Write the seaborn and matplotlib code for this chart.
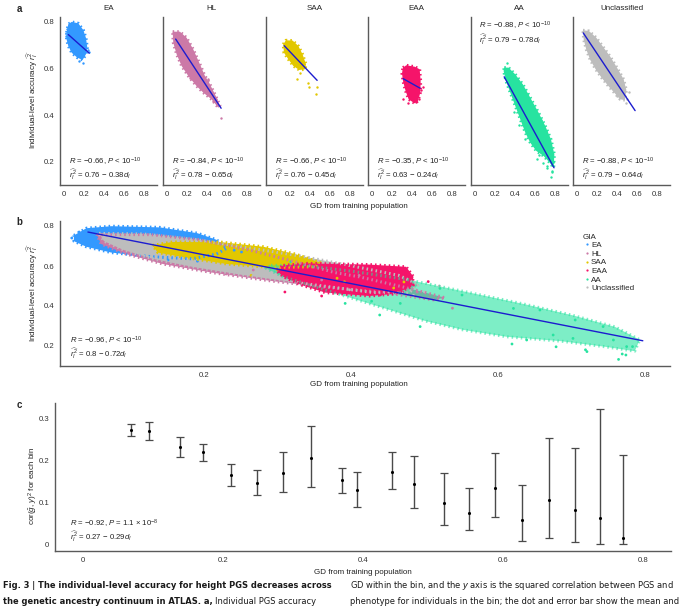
import matplotlib
matplotlib.use('Agg')
import matplotlib.pyplot as plt
from matplotlib import font_manager
import pandas as pd
import seaborn as sns

groups = ['EA', 'HL', 'SAA', 'EAA', 'AA', 'Unclassified']
palette = {'EA': '#3399FF', 'HL': '#CC79A7', 'SAA': '#E2C700',
           'EAA': '#F5146A', 'AA': '#27E3A0', 'Unclassified': '#BDBDBD'}
line_col = '#1C1CCF'

# dense core of each cloud, traced as an outline (GD, accuracy)
ea_edge_x = [0.023, 0.040, 0.074, 0.140, 0.191, 0.217, 0.231, 0.217, 0.184, 0.130, 0.074, 0.040, 0.023]
ea_edge_y = [0.753, 0.789, 0.799, 0.793, 0.764, 0.731, 0.689, 0.660, 0.636, 0.646, 0.667, 0.696, 0.724]
hl_edge_x = [0.054, 0.127, 0.194, 0.261, 0.328, 0.378, 0.411, 0.478, 0.528, 0.512, 0.445, 0.361, 0.294, 0.211, 0.144, 0.094, 0.060]
hl_edge_y = [0.757, 0.757, 0.731, 0.681, 0.617, 0.567, 0.546, 0.489, 0.441, 0.431, 0.467, 0.496, 0.524, 0.567, 0.610, 0.660, 0.710]
saa_edge_x = [0.130, 0.157, 0.224, 0.281, 0.324, 0.358, 0.348, 0.291, 0.231, 0.181, 0.137]
saa_edge_y = [0.703, 0.720, 0.719, 0.696, 0.660, 0.617, 0.596, 0.593, 0.610, 0.639, 0.667]
eaa_edge_x = [0.308, 0.341, 0.425, 0.475, 0.485, 0.482, 0.458, 0.425, 0.365, 0.334, 0.308, 0.298]
eaa_edge_y = [0.603, 0.613, 0.607, 0.596, 0.546, 0.496, 0.460, 0.450, 0.467, 0.503, 0.546, 0.579]
aa_edge_x = [0.291, 0.334, 0.401, 0.478, 0.552, 0.635, 0.702, 0.759, 0.793, 0.786, 0.746, 0.686, 0.612,
             0.552, 0.502, 0.452, 0.401, 0.351, 0.308, 0.284]
aa_edge_y = [0.603, 0.603, 0.574, 0.531, 0.474, 0.410, 0.353, 0.296, 0.231, 0.174, 0.196, 0.224, 0.246,
             0.281, 0.324, 0.381, 0.439, 0.496, 0.546, 0.589]
unc_edge_x = [0.057, 0.117, 0.191, 0.264, 0.331, 0.398, 0.465, 0.492, 0.478, 0.431, 0.385, 0.318, 0.251,
              0.184, 0.130, 0.090, 0.064]
unc_edge_y = [0.763, 0.760, 0.731, 0.689, 0.650, 0.603, 0.553, 0.507, 0.464, 0.467, 0.489, 0.521, 0.556,
              0.596, 0.636, 0.681, 0.724]

# loose individuals outside the dense cores
ea_pt_x = [0.191, 0.251, 0.241, 0.151, 0.020, 0.030, 0.041]
ea_pt_y = [0.624, 0.670, 0.679, 0.630, 0.740, 0.770, 0.755]
hl_pt_x = [0.538, 0.462, 0.411, 0.490, 0.360, 0.267, 0.230]
hl_pt_y = [0.389, 0.460, 0.553, 0.470, 0.530, 0.580, 0.560]
saa_pt_x = [0.264, 0.381, 0.391, 0.472, 0.458, 0.300]
saa_pt_y = [0.553, 0.539, 0.521, 0.520, 0.490, 0.580]
eaa_pt_x = [0.310, 0.470, 0.360, 0.440, 0.505, 0.485]
eaa_pt_y = [0.470, 0.470, 0.450, 0.455, 0.522, 0.505]
aa_pt_x = [0.318, 0.679, 0.769, 0.719, 0.619, 0.428, 0.764, 0.774, 0.775, 0.743, 0.757, 0.783, 0.721,
           0.702, 0.675, 0.639, 0.705, 0.657, 0.621, 0.521, 0.551, 0.467, 0.439, 0.494, 0.392]
aa_pt_y = [0.621, 0.196, 0.160, 0.181, 0.210, 0.424, 0.133, 0.155, 0.197, 0.297, 0.230, 0.197, 0.172,
           0.238, 0.255, 0.230, 0.330, 0.380, 0.388, 0.488, 0.455, 0.413, 0.355, 0.297, 0.413]
unc_pt_x = [0.485, 0.398, 0.520, 0.500]
unc_pt_y = [0.453, 0.481, 0.500, 0.470]

# per-GIA fits printed in panel a
fit_r = [-0.66, -0.84, -0.66, -0.35, -0.88, -0.88]
fit_a = [0.76, 0.78, 0.76, 0.63, 0.79, 0.79]
fit_b = [0.38, 0.65, 0.45, 0.24, 0.78, 0.64]
fit_x0 = [0.04, 0.084, 0.14, 0.31, 0.29, 0.06]
fit_x1 = [0.25, 0.54, 0.47, 0.48, 0.79, 0.58]

# pooled fit, panel b
all_r, all_a, all_b = -0.96, 0.8, 0.72
all_x0, all_x1 = 0.042, 0.797

# panel c: binned squared correlation
bin_gd = [0.068, 0.094, 0.139, 0.171, 0.212, 0.248, 0.286, 0.325, 0.370, 0.391, 0.442, 0.473, 0.516,
          0.551, 0.588, 0.627, 0.665, 0.703, 0.739, 0.771]
bin_mean = [0.273, 0.271, 0.233, 0.220, 0.166, 0.147, 0.171, 0.207, 0.153, 0.130, 0.174, 0.144, 0.100,
            0.076, 0.134, 0.057, 0.107, 0.083, 0.062, 0.014]
bin_lo = [0.259, 0.250, 0.210, 0.199, 0.139, 0.118, 0.126, 0.138, 0.122, 0.090, 0.132, 0.087, 0.045,
          0.034, 0.065, 0.008, 0.016, 0.005, 0.000, 0.000]
bin_hi = [0.288, 0.292, 0.256, 0.240, 0.193, 0.178, 0.220, 0.283, 0.183, 0.174, 0.220, 0.212, 0.170,
          0.134, 0.218, 0.142, 0.254, 0.230, 0.324, 0.214]

edges = {'EA': (ea_edge_x, ea_edge_y), 'HL': (hl_edge_x, hl_edge_y), 'SAA': (saa_edge_x, saa_edge_y),
         'EAA': (eaa_edge_x, eaa_edge_y), 'AA': (aa_edge_x, aa_edge_y), 'Unclassified': (unc_edge_x, unc_edge_y)}
pts = {'EA': (ea_pt_x, ea_pt_y), 'HL': (hl_pt_x, hl_pt_y), 'SAA': (saa_pt_x, saa_pt_y),
       'EAA': (eaa_pt_x, eaa_pt_y), 'AA': (aa_pt_x, aa_pt_y), 'Unclassified': (unc_pt_x, unc_pt_y)}

rows = []
for g in groups:
    for x, y in zip(*pts[g]):
        rows.append({'gd': x, 'acc': y, 'gia': g})
points = pd.DataFrame(rows)

sns.set_style('white')
plt.rcParams['font.family'] = ['Liberation Sans', 'DejaVu Sans']
plt.rcParams['mathtext.fontset'] = 'custom'
plt.rcParams['mathtext.rm'] = 'Liberation Sans'
plt.rcParams['mathtext.it'] = 'Liberation Sans:italic'
plt.rcParams['mathtext.bf'] = 'Liberation Sans:bold'

# a narrow face for the caption, if one is installed
cap_kw = {'family': 'Liberation Sans'}
narrow = [f for f in font_manager.fontManager.ttflist
          if 'Narrow' in f.name or 'Condensed' in f.name or f.stretch in ('condensed', 'semi-condensed')]
narrow.sort(key=lambda f: 0 if 'Liberation' in f.name else 1)
if narrow:
    cap_kw = {'family': narrow[0].name, 'fontstretch': narrow[0].stretch}

W, H = 680, 609
fig = plt.figure(figsize=(W / 100, H / 100), dpi=100)


def rect(l, t, r, b):
    return [l / W, 1 - b / H, (r - l) / W, (b - t) / H]


def style(ax):
    sns.despine(ax=ax)
    for s in ('left', 'bottom'):
        ax.spines[s].set_color('#5a5a5a')
        ax.spines[s].set_linewidth(1.0)
    ax.tick_params(labelsize=5.6, colors='#5a5a5a', labelcolor='#333333', length=2.5, width=0.8, pad=1.5)
    ax.set_xlabel('')
    ax.set_ylabel('')


def cloud(ax, g, alpha=1.0):
    ex, ey = edges[g]
    ax.fill(ex, ey, color=palette[g], lw=0, alpha=alpha)
    # speckled rim so the edge reads as loose points
    ax.plot(ex + ex[:1], ey + ey[:1], color=palette[g], lw=2.2, ls=(0, (0.5, 1.0)), alpha=alpha)


def fit_text(r, a, b):
    l1 = r'$R$ = ' + f'{r:.2f}'.replace('-', '\u2212') + r', $P$ < 10$^{-10}$'
    l2 = r'$\widehat{r_I^2}$ = ' + f'{a:g} \u2212 {b:g}' + r'$d_I$'
    return l1, l2


def draw_line(ax, a, b, x0, x1):
    sns.lineplot(x=[x0, x1], y=[a - b * x0, a - b * x1], ax=ax, color=line_col, linewidth=1.0)


ticks_x = [0, 0.2, 0.4, 0.6, 0.8]
tick_lab = ['0', '0.2', '0.4', '0.6', '0.8']

# ---- panel a
lefts = [60, 163, 266, 368, 471, 573]
for i, g in enumerate(groups):
    ax = fig.add_axes(rect(lefts[i], 17, lefts[i] + 97, 185))
    cloud(ax, g)
    sub = points[points.gia == g]
    sns.scatterplot(data=sub, x='gd', y='acc', color=palette[g], s=3, linewidth=0, ax=ax, legend=False)
    draw_line(ax, fit_a[i], fit_b[i], fit_x0[i], fit_x1[i])
    ax.set_xlim(-0.043, 0.93)
    ax.set_ylim(0.1, 0.82)
    ax.set_xticks(ticks_x, tick_lab)
    ax.set_yticks([0.2, 0.4, 0.6, 0.8], ['0.2', '0.4', '0.6', '0.8'])
    style(ax)
    if i > 0:
        ax.tick_params(left=False, labelleft=False)
    l1, l2 = fit_text(fit_r[i], fit_a[i], fit_b[i])
    ty = (0.782, 0.724) if g == 'AA' else (0.199, 0.146)
    tx = 0.033 if g == 'AA' else 0.05
    ax.text(tx, ty[0], l1, fontsize=5.6, color='#222222', va='center')
    ax.text(tx, ty[1], l2, fontsize=5.6, color='#222222', va='center')
    fig.text((lefts[i] + 48.5) / W, 1 - 8 / H, g, fontsize=5.8, color='#222222', ha='center', va='center')

fig.text(19 / W, 1 - 9 / H, 'a', fontsize=7, fontweight='bold', ha='center', va='center')
fig.text(33 / W, 1 - 100 / H, r'Individual-level accuracy $\widehat{r_I^2}$', fontsize=5.8, rotation=90,
         ha='center', va='center', color='#222222')
fig.text(359 / W, 1 - 206 / H, 'GD from training population', fontsize=5.8, ha='center', va='center',
         color='#222222')

# ---- panel b
axb = fig.add_axes(rect(60, 221, 670, 366))
for g in ['EA', 'HL', 'Unclassified', 'SAA', 'AA', 'EAA']:
    cloud(axb, g, alpha=0.6 if g == 'AA' else 1.0)
sns.scatterplot(data=points, x='gd', y='acc', hue='gia', hue_order=groups, palette=palette, s=4,
                linewidth=0, ax=axb)
draw_line(axb, all_a, all_b, all_x0, all_x1)
axb.set_xlim(0.004, 0.834)
axb.set_ylim(0.1, 0.825)
axb.set_xticks([0.2, 0.4, 0.6, 0.8], ['0.2', '0.4', '0.6', '0.8'])
axb.set_yticks([0.2, 0.4, 0.6, 0.8], ['0.2', '0.4', '0.6', '0.8'])
style(axb)
sns.move_legend(axb, loc='upper left', bbox_to_anchor=(0.852, 0.935), title='GIA', frameon=False,
                fontsize=5.8, title_fontsize=5.8, handletextpad=0.0, labelspacing=0.12, borderaxespad=0,
                handlelength=1.0, alignment='left', markerscale=0.8)
l1, l2 = fit_text(all_r, all_a, all_b)
axb.text(0.018, 0.228, l1, fontsize=5.6, color='#222222', va='center')
axb.text(0.018, 0.160, l2, fontsize=5.6, color='#222222', va='center')
fig.text(19 / W, 1 - 222 / H, 'b', fontsize=7, fontweight='bold', ha='center', va='center')
fig.text(33 / W, 1 - 293 / H, r'Individual-level accuracy $\widehat{r_I^2}$', fontsize=5.8, rotation=90,
         ha='center', va='center', color='#222222')
fig.text(359 / W, 1 - 385 / H, 'GD from training population', fontsize=5.8, ha='center', va='center',
         color='#222222')

# ---- panel c
axc = fig.add_axes(rect(55, 403, 671, 551))
err = [[m - lo for m, lo in zip(bin_mean, bin_lo)], [hi - m for m, hi in zip(bin_mean, bin_hi)]]
axc.errorbar(bin_gd, bin_mean, yerr=err, fmt='none', ecolor='#4a4a4a', elinewidth=1.0, capsize=2.6,
             capthick=0.9)
sns.scatterplot(x=bin_gd, y=bin_mean, color='black', s=5, linewidth=0, ax=axc, zorder=3)
axc.set_xlim(-0.04, 0.84)
axc.set_ylim(-0.016, 0.338)
axc.set_xticks(ticks_x, tick_lab)
axc.set_yticks([0, 0.1, 0.2, 0.3], ['0', '0.1', '0.2', '0.3'])
style(axc)
axc.text(-0.019, 0.050, r'$R$ = ' + '\u22120.92, ' + r'$P$ = 1.1 $\times$ 10$^{-8}$', fontsize=5.6,
         color='#222222', va='center')
axc.text(-0.019, 0.018, r'$\widehat{r_I^2}$ = 0.27 ' + '\u2212 0.29' + r'$d_I$', fontsize=5.6,
         color='#222222', va='center')
fig.text(19 / W, 1 - 405 / H, 'c', fontsize=7, fontweight='bold', ha='center', va='center')
fig.text(33 / W, 1 - 486 / H, r'cor($\hat{g}$, $y$)$^2$ for each bin', fontsize=5.8, rotation=90,
         ha='center', va='center', color='#222222')
fig.text(363 / W, 1 - 572 / H, 'GD from training population', fontsize=5.8, ha='center', va='center',
         color='#222222')

# ---- caption, two columns; sizes fitted to the column widths
cap_col = '#1a1a1a'
c1 = fig.text(3 / W, 1 - 586 / H, 'Fig. 3 | The individual-level accuracy for height PGS decreases across',
              fontweight='bold', fontsize=8, va='center', color=cap_col, **cap_kw)
c2 = fig.text(3 / W, 1 - 602 / H, 'the genetic ancestry continuum in ATLAS. a,',
              fontweight='bold', fontsize=8, va='center', color=cap_col, **cap_kw)
c4 = fig.text(350 / W, 1 - 586 / H,
              'GD within the bin, and the $y$ axis is the squared correlation between PGS and',
              fontsize=8, va='center', color=cap_col, **cap_kw)
c5 = fig.text(350 / W, 1 - 602 / H,
              'phenotype for individuals in the bin; the dot and error bar show the mean and',
              fontsize=8, va='center', color=cap_col, **cap_kw)
fig.canvas.draw()
r = fig.canvas.get_renderer()
s_left = 8 * 327 / c1.get_window_extent(r).width
for t in (c1, c2):
    t.set_fontsize(s_left)
s_right = 8 * 327 / max(c4.get_window_extent(r).width, c5.get_window_extent(r).width)
for t in (c4, c5):
    t.set_fontsize(s_right)
fig.canvas.draw()
bb = c2.get_window_extent(r)
fig.text((bb.x1 + 2.5) / W, 1 - 602 / H, 'Individual PGS accuracy', fontsize=s_left, va='center',
         color=cap_col, **cap_kw)

fig.savefig('out.png', dpi=100)
